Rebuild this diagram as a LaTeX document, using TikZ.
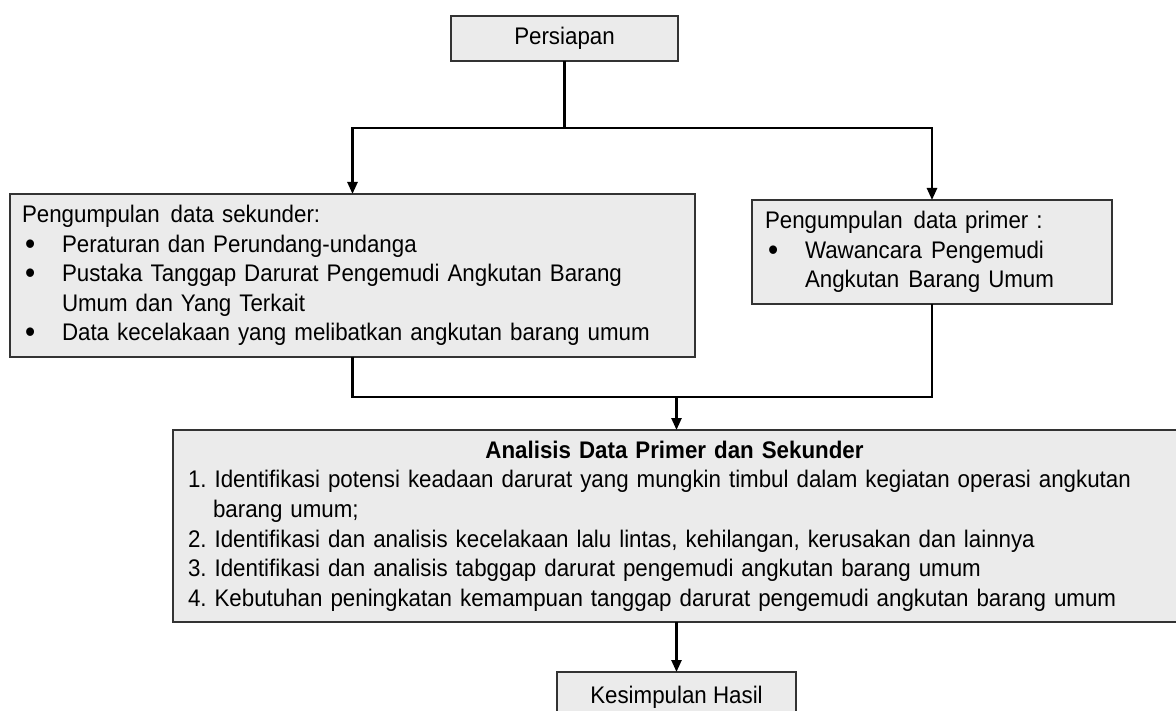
\documentclass[tikz,border=0pt]{standalone}
\usepackage{fontspec}
\setmainfont{Liberation Sans}[FakeStretch=0.93]
\usetikzlibrary{arrows.meta}
\definecolor{boxfill}{HTML}{EBEBEB}
\definecolor{boxline}{HTML}{333333}
\newcommand\bul{\hspace*{3pt}\makebox[37pt][l]{\raisebox{-0.08em}{\scalebox{1.3}{•}}}}
\frenchspacing
\begin{document}
\begin{tikzpicture}[x=1pt,y=-1pt,
  box/.style={draw=boxline, line width=1.3pt, fill=boxfill, inner ysep=0pt, outer sep=0pt,
    font=\fontsize{24}{29.6}\selectfont},
  conn/.style={line width=2.5pt, draw=black},
  arr/.style={conn, -{Triangle[length=12pt,width=10pt]}}]
\useasboundingbox (0,0) rectangle (1176,711);
\node[box, minimum width=227pt, minimum height=45pt, inner xsep=0pt] (pers) at (564.5,38.5) {Persiapan};
\node[box, anchor=north west, text width=661pt, inner xsep=12pt, minimum height=163pt, align=left] (sek) at (10,194)
 {Pengumpulan\hspace{11pt}data sekunder:\\
  \bul Peraturan dan Perundang-undanga\\
  \bul Pustaka Tanggap Darurat Pengemudi Angkutan Barang\\
  \hspace*{40pt}Umum dan Yang Terkait\\
  \bul Data kecelakaan yang melibatkan angkutan barang umum};
\node[box, anchor=north west, text width=334pt, inner xsep=13pt, minimum height=104pt, align=left] (prim) at (752,200)
 {Pengumpulan\hspace{11pt}data primer :\\
  \bul Wawancara\hspace{9pt}Pengemudi\\
  \hspace*{40pt}Angkutan\hspace{9pt}Barang Umum};
\node[box, anchor=north west, text width=977pt, inner xsep=15pt, minimum height=192pt, align=left] (ana) at (173,430)
 {\makebox[973pt][c]{\bfseries Analisis Data Primer dan Sekunder}\\
  1. Identifikasi potensi keadaan darurat yang mungkin timbul dalam kegiatan operasi angkutan\\
  \hspace*{25pt}barang umum;\\
  2. Identifikasi dan analisis kecelakaan lalu lintas, kehilangan, kerusakan dan lainnya\\
  3. Identifikasi dan analisis tabggap darurat pengemudi angkutan barang umum\\
  4. Kebutuhan peningkatan kemampuan tanggap darurat pengemudi angkutan barang umum};
\node[box, minimum width=239pt, minimum height=50pt, inner xsep=0pt] (kes) at (676.5,697) {Kesimpulan Hasil};
\coordinate (j1) at (pers.south |- 0,128);
\draw[conn] (pers.south) -- (j1);
\draw[arr] (j1) -| (sek.north);
\draw[arr] (j1) -| (prim.north);
\coordinate (j2) at (ana.north |- 0,397);
\draw[conn] (sek.south) |- (j2);
\draw[conn] (prim.south) |- (j2);
\draw[arr] (j2) -- (ana.north);
\draw[arr] (ana.south) -- (kes.north);
\end{tikzpicture}
\end{document}
